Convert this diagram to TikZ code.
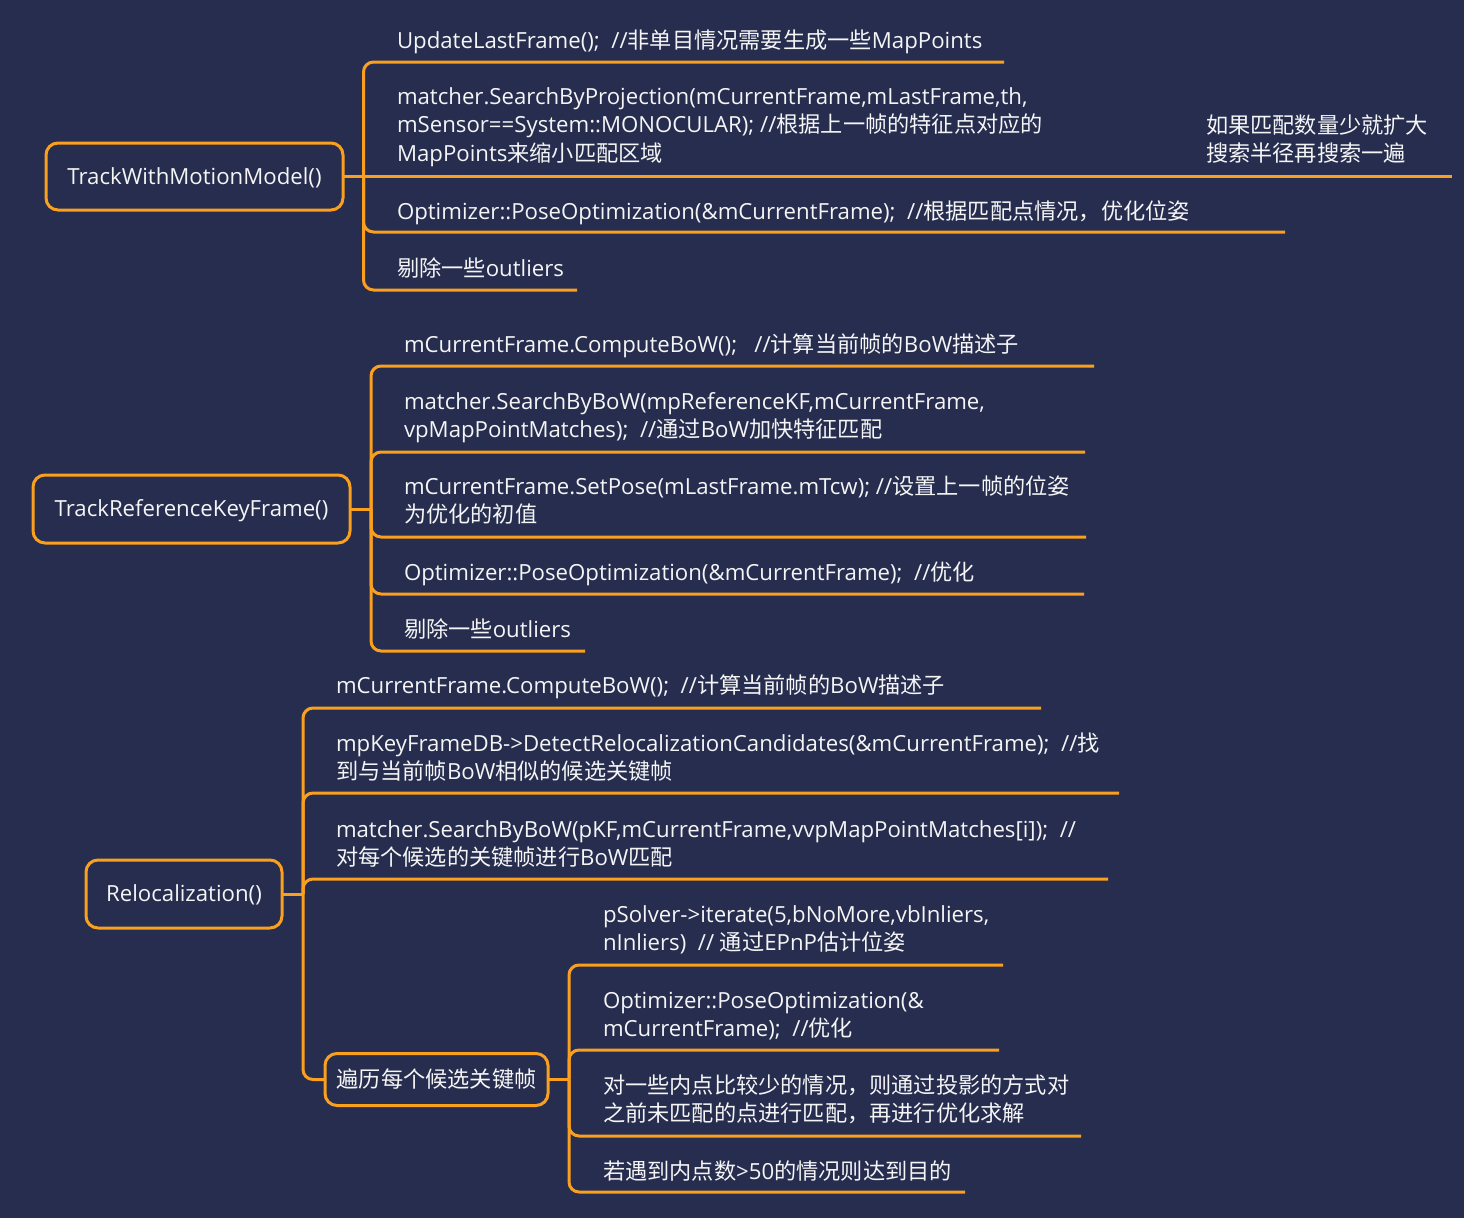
\documentclass[tikz,border=0pt]{standalone}
\usepackage{fontspec}
\setmainfont{Open Sans}
\newfontfamily\cjkfont{Noto Sans CJK SC}
\newcommand\zhs[1]{{\cjkfont #1}}
\newcommand\mltext[1]{\begin{tabular}[t]{@{}l@{}}#1\end{tabular}}
\definecolor{bg}{RGB}{38,45,79}
\definecolor{org}{RGB}{250,160,30}
\definecolor{txt}{RGB}{245,245,245}
\begin{document}
\begin{tikzpicture}[x=1pt,y=-1pt,
  every node/.style={inner sep=0pt, outer sep=0pt, text=txt, font=\fontsize{22.2}{28.6}\selectfont},
  topicbox/.style={draw=org, line width=3pt, rounded corners=12pt, text height=16pt, text depth=1pt},
  topictext/.style={anchor=base west},
  conn/.style={draw=org, line width=3pt, rounded corners=10pt}
]
\fill[bg] (0,0) rectangle (1464,1218);
\useasboundingbox (0,0) rectangle (1464,1218);

% ---------- Group 1 ----------
\node[topicbox, minimum width=297pt, minimum height=67pt] (b1) at (194.5,176.5) {TrackWithMotionModel()};
\coordinate (j1) at (363.5,176.5);
\coordinate (u11) at (1004,62);
\coordinate (u12) at (1193,176.5);
\coordinate (u12a) at (1452,176.5);
\coordinate (u13) at (1285,232);
\coordinate (u14) at (577,290);
\node[topictext] (t11) at (397,48) {UpdateLastFrame();\ \ //\zhs{非单目情况需要生成一些}MapPoints};
\node[topictext] (t12) at (397,104) {\mltext{matcher.SearchByProjection(mCurrentFrame,mLastFrame,th,\\mSensor==System::MONOCULAR); //\zhs{根据上一帧的特征点对应的}\\MapPoints\zhs{来缩小匹配区域}}};
\node[topictext] (t12a) at (1206,133) {\mltext{\zhs{如果匹配数量少就扩大}\\\zhs{搜索半径再搜索一遍}}};
\node[topictext] (t13) at (397,219) {Optimizer::PoseOptimization(\&mCurrentFrame);\ \ //\zhs{根据匹配点情况，优化位姿}};
\node[topictext] (t14) at (397,276) {\zhs{剔除一些}outliers};
\draw[conn] (b1.east) -- (j1);
\draw[conn] (j1) -- (j1 |- u11) -- (u11);
\draw[conn] (j1) -- (u12);
\draw[conn] (u12) -- (u12a);
\draw[conn] (j1) -- (j1 |- u13) -- (u13);
\draw[conn] (j1) -- (j1 |- u14) -- (u14);

% ---------- Group 2 ----------
\node[topicbox, minimum width=317pt, minimum height=68pt] (b2) at (191.5,509) {TrackReferenceKeyFrame()};
\coordinate (j2) at (371,509);
\coordinate (u21) at (1094,366);
\coordinate (u22) at (1085,452);
\coordinate (u23) at (1086,537);
\coordinate (u24) at (1084,594);
\coordinate (u25) at (585,651);
\node[topictext] (t21) at (404,352) {mCurrentFrame.ComputeBoW();\ \ \ //\zhs{计算当前帧的}BoW\zhs{描述子}};
\node[topictext] (t22) at (404,409) {\mltext{matcher.SearchByBoW(mpReferenceKF,mCurrentFrame,\\vpMapPointMatches);\ \ //\zhs{通过}BoW\zhs{加快特征匹配}}};
\node[topictext] (t23) at (404,494) {\mltext{mCurrentFrame.SetPose(mLastFrame.mTcw); //\zhs{设置上一帧的位姿}\\\zhs{为优化的初值}}};
\node[topictext] (t24) at (404,580) {Optimizer::PoseOptimization(\&mCurrentFrame);\ \ //\zhs{优化}};
\node[topictext] (t25) at (404,637) {\zhs{剔除一些}outliers};
\draw[conn] (b2.east) -- (j2);
\draw[conn] (j2) -- (j2 |- u21) -- (u21);
\draw[conn] (j2) -- (j2 |- u22) -- (u22);
\draw[conn] (j2) -- (j2 |- u23) -- (u23);
\draw[conn] (j2) -- (j2 |- u24) -- (u24);
\draw[conn] (j2) -- (j2 |- u25) -- (u25);

% ---------- Group 3 ----------
\node[topicbox, minimum width=196pt, minimum height=68pt] (b3) at (184,894) {Relocalization()};
\coordinate (j3) at (303,894);
\coordinate (u31) at (1041,708);
\coordinate (u32) at (1119,793);
\coordinate (u33) at (1108,879);
\node[topictext] (t31) at (336,693) {mCurrentFrame.ComputeBoW();\ \ //\zhs{计算当前帧的}BoW\zhs{描述子}};
\node[topictext] (t32) at (336,751) {\mltext{mpKeyFrameDB->DetectRelocalizationCandidates(\&mCurrentFrame);\ \ //\zhs{找}\\\zhs{到与当前帧}BoW\zhs{相似的候选关键帧}}};
\node[topictext] (t33) at (336,837) {\mltext{matcher.SearchByBoW(pKF,mCurrentFrame,vvpMapPointMatches[i]);\ \ //\\\zhs{对每个候选的关键帧进行}BoW\zhs{匹配}}};
\node[topicbox, minimum width=223pt, minimum height=52pt] (b4) at (436.5,1079.5) {\zhs{遍历每个候选关键帧}};
\draw[conn] (b3.east) -- (j3);
\draw[conn] (j3) -- (j3 |- u31) -- (u31);
\draw[conn] (j3) -- (j3 |- u32) -- (u32);
\draw[conn] (j3) -- (j3 |- u33) -- (u33);
\draw[conn] (j3) -- (j3 |- b4.west) -- (b4.west);

% ---------- Group 4 ----------
\coordinate (j4) at (569,1079.5);
\coordinate (u41) at (1003,965);
\coordinate (u42) at (999,1050);
\coordinate (u43) at (1081,1136);
\coordinate (u44) at (965,1192);
\node[topictext] (t41) at (603,922) {\mltext{pSolver->iterate(5,bNoMore,vbInliers,\\nInliers)\ \ // \zhs{通过}EPnP\zhs{估计位姿}}};
\node[topictext] (t42) at (603,1008) {\mltext{Optimizer::PoseOptimization(\&\\mCurrentFrame);\ \ //\zhs{优化}}};
\node[topictext] (t43) at (603,1093) {\mltext{\zhs{对一些内点比较少的情况，则通过投影的方式对}\\\zhs{之前未匹配的点进行匹配，再进行优化求解}}};
\node[topictext] (t44) at (603,1179) {\zhs{若遇到内点数}>50\zhs{的情况则达到目的}};
\draw[conn] (b4.east) -- (j4);
\draw[conn] (j4) -- (j4 |- u41) -- (u41);
\draw[conn] (j4) -- (j4 |- u42) -- (u42);
\draw[conn] (j4) -- (j4 |- u43) -- (u43);
\draw[conn] (j4) -- (j4 |- u44) -- (u44);
\end{tikzpicture}
\end{document}
